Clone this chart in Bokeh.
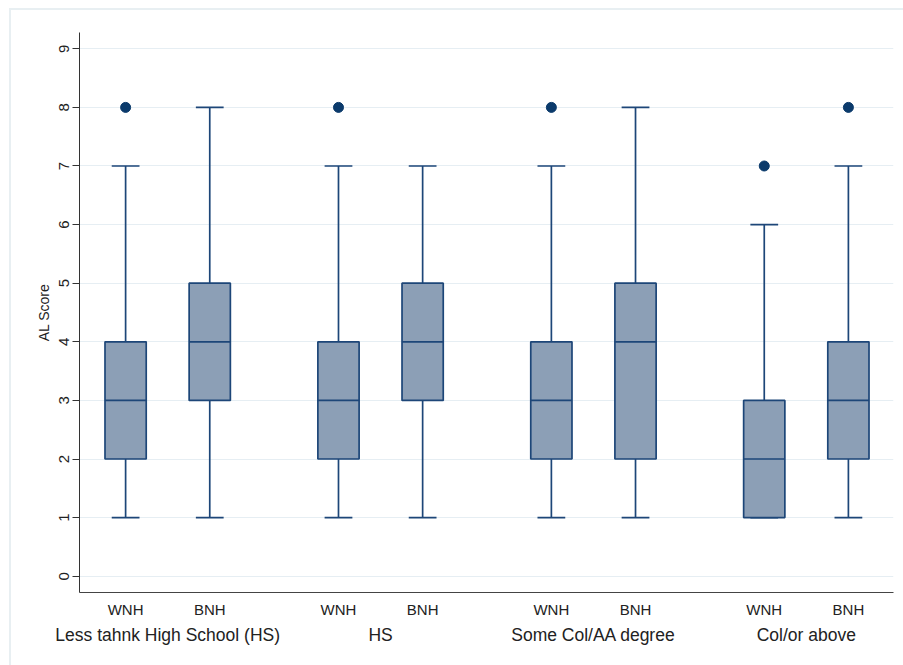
from bokeh.plotting import figure
from bokeh.models import LinearAxis, FixedTicker, Range1d, ColumnDataSource
from bokeh.embed import file_html
from bokeh.resources import INLINE

# ---- data ----
groups = ["Less tahnk High School (HS)", "HS", "Some Col/AA degree", "Col/or above"]
subgroups = ["WNH", "BNH"]
lower = [1, 1, 1, 1, 1, 1, 1, 1]
q1 = [2, 3, 2, 3, 2, 2, 1, 2]
median = [3, 4, 3, 4, 3, 4, 2, 3]
q3 = [4, 5, 4, 5, 4, 5, 3, 4]
upper = [7, 8, 7, 7, 7, 8, 6, 7]
outlier_box = [0, 2, 4, 6, 7]
outlier_val = [8, 8, 8, 7, 8]
y_ticks = [0, 1, 2, 3, 4, 5, 6, 7, 8, 9]

FONT = "Liberation Sans"
BOX_FILL = "#8c9fb6"
LINE = "#1d4678"
DOT = "#0b3a6b"
FRAME = "#e8eff2"

group_gap = 2.53
xs = []
for gi, g in enumerate(groups):
    for si, s in enumerate(subgroups):
        xs.append(gi * group_gap + (si - 0.5))
group_centers = [gi * group_gap for gi in range(len(groups))]

box_w = 0.49
cap_w = 0.33

src = ColumnDataSource(dict(
    x=xs, lower=lower, q1=q1, med=median, q3=q3, upper=upper,
    x0=[x - box_w / 2 for x in xs], x1=[x + box_w / 2 for x in xs],
    c0=[x - cap_w / 2 for x in xs], c1=[x + cap_w / 2 for x in xs],
))

p = figure(
    frame_width=814, frame_height=560,
    min_border_left=79, min_border_right=10, min_border_top=32, min_border_bottom=73,
    x_range=Range1d(xs[0] - 0.548, xs[-1] + 0.536),
    y_range=Range1d(-0.278, 9.278),
    output_backend="svg", toolbar_location=None,
    x_axis_location=None,
)
p.outline_line_color = None
p.background_fill_color = "white"
p.border_fill_color = None
# faint outer graph-region frame (left and top edges visible)
p.styles = {
    "background": (f"linear-gradient({FRAME},{FRAME}) 9px 8px / 2px 800px no-repeat, "
                   f"linear-gradient({FRAME},{FRAME}) 9px 8px / 1000px 2px no-repeat, white"),
}
p.xgrid.visible = False
p.ygrid.grid_line_color = "#e6eef3"
p.ygrid.grid_line_width = 1.2
p.ygrid.ticker = FixedTicker(ticks=y_ticks)

# y axis
ya = p.yaxis[0]
ya.ticker = FixedTicker(ticks=y_ticks)
ya.axis_label = "AL Score"
ya.axis_label_text_font = FONT
ya.axis_label_text_font_size = "14px"
ya.axis_label_text_font_style = "normal"
ya.axis_label_text_color = "#222222"
ya.axis_label_standoff = 5
ya.major_label_orientation = "vertical"
ya.major_label_text_font = FONT
ya.major_label_text_font_size = "15px"
ya.major_label_text_color = "#222222"
ya.major_label_standoff = 3
ya.major_tick_out = 7
ya.major_tick_in = 0
ya.minor_tick_line_color = None
ya.axis_line_color = "#333333"
ya.major_tick_line_color = "#333333"

# x axis: subgroup labels
xa = LinearAxis(ticker=FixedTicker(ticks=xs),
                major_label_overrides={x: subgroups[i % 2] for i, x in enumerate(xs)})
xa.major_tick_out = 0
xa.major_tick_in = 0
xa.minor_tick_line_color = None
xa.axis_line_color = "#444444"
xa.major_label_text_font = FONT
xa.major_label_text_font_size = "15px"
xa.major_label_text_color = "#222222"
xa.major_label_standoff = 8
p.add_layout(xa, "below")

# x axis: group labels
ga = LinearAxis(ticker=FixedTicker(ticks=group_centers),
                major_label_overrides={c: groups[i] for i, c in enumerate(group_centers)})
ga.major_tick_out = 0
ga.major_tick_in = 0
ga.minor_tick_line_color = None
ga.axis_line_color = None
ga.major_label_text_font = FONT
ga.major_label_text_font_size = "17.5px"
ga.major_label_text_color = "#222222"
ga.major_label_standoff = 4
p.add_layout(ga, "below")

# whiskers
p.segment(x0="x", y0="q3", x1="x", y1="upper", source=src, line_color=LINE, line_width=1.7)
p.segment(x0="x", y0="lower", x1="x", y1="q1", source=src, line_color=LINE, line_width=1.7)
p.segment(x0="c0", y0="upper", x1="c1", y1="upper", source=src, line_color=LINE, line_width=1.7)
p.segment(x0="c0", y0="lower", x1="c1", y1="lower", source=src, line_color=LINE, line_width=1.7)
# boxes
p.quad(left="x0", right="x1", bottom="q1", top="q3", source=src,
       fill_color=BOX_FILL, line_color=LINE, line_width=1.7)
p.segment(x0="x0", y0="med", x1="x1", y1="med", source=src, line_color=LINE, line_width=1.7)
# outliers
p.scatter(x=[xs[i] for i in outlier_box], y=outlier_val, size=10,
          fill_color=DOT, line_color=DOT)

open("out.html", "w").write(file_html(p, INLINE))
